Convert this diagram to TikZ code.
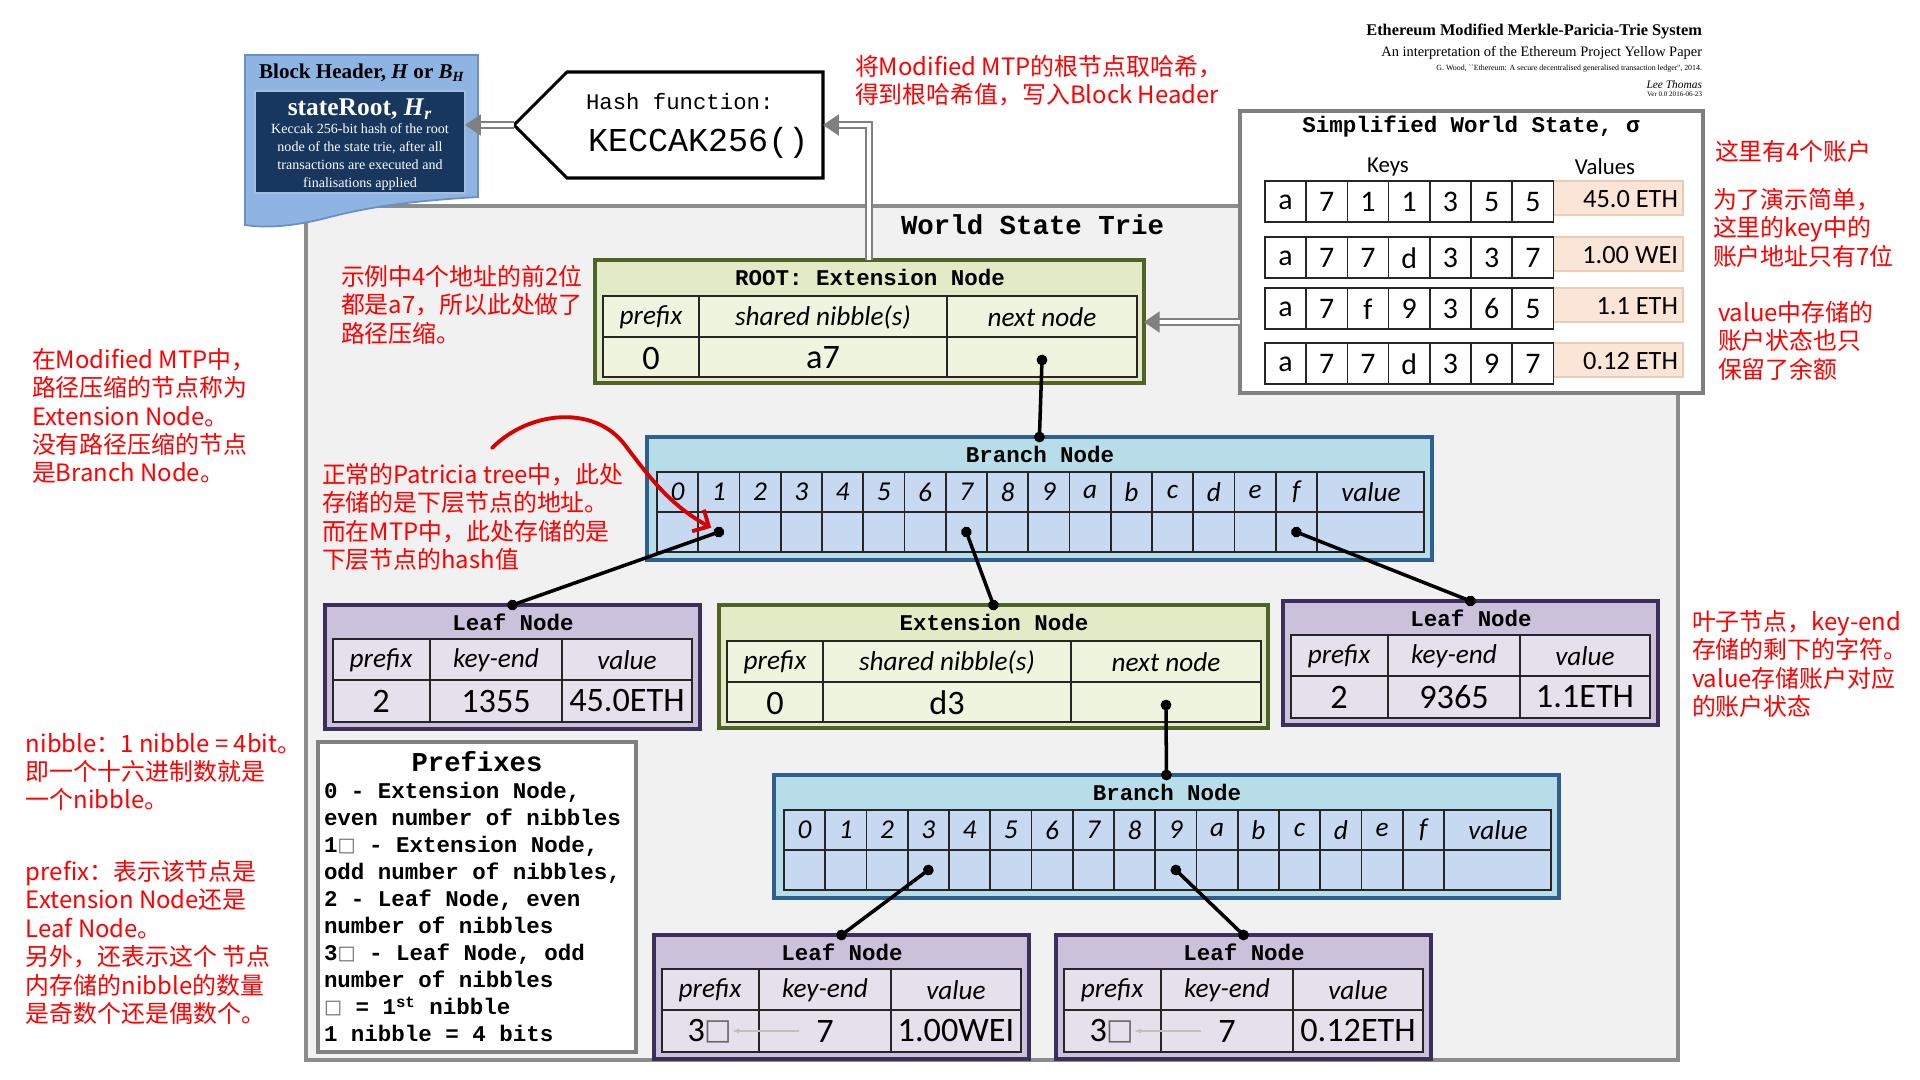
\documentclass[tikz,border=0pt]{standalone}
\usepackage{fontspec}
\setmainfont{Carlito}
\setmonofont{Liberation Mono}
\newfontfamily\timesf{Liberation Serif}
\newfontfamily\cjk{Noto Sans CJK SC}
\newfontfamily\symf{DejaVu Sans}
\usetikzlibrary{arrows.meta}
\usetikzlibrary{fit}

\definecolor{leaffill}{HTML}{CCC1DA}
\definecolor{leafedge}{HTML}{3D2F5B}
\definecolor{leafcellc}{HTML}{E6E0EC}
\definecolor{extfill}{HTML}{E3EBC6}
\definecolor{extedge}{HTML}{4F6228}
\definecolor{extcellc}{HTML}{EFF4DE}
\definecolor{brfill}{HTML}{B7DEE8}
\definecolor{bredge}{HTML}{2E5F8F}
\definecolor{brcellc}{HTML}{C6D9F1}
\definecolor{hdrfill}{HTML}{8DB4E2}
\definecolor{hdredge}{HTML}{6A8FC4}
\definecolor{navy}{HTML}{17375E}
\definecolor{amtfill}{HTML}{FBE5D6}
\definecolor{amtedge}{HTML}{EBCDB7}
\definecolor{triefill}{HTML}{F1F1F1}

\tikzset{
  every node/.style={inner sep=0pt, outer sep=0pt},
  trie/.style={draw=black!45, fill=triefill, line width=1.8pt},
  header/.style={draw=hdredge, fill=hdrfill, line width=1pt},
  rootbox/.style={fill=navy, draw=hdredge!60, line width=0.8pt},
  hashbox/.style={draw=black, fill=white, line width=1.8pt},
  wsbox/.style={draw=black!50, fill=white, line width=2pt},
  leafbox/.style={draw=leafedge, fill=leaffill, line width=2.4pt},
  extbox/.style={draw=extedge, fill=extfill, line width=2.4pt},
  brbox/.style={draw=bredge, fill=brfill, line width=2.2pt},
  gridline/.style={draw=black!85, line width=0.9pt},
  keycell/.style={draw=black!85, fill=white, line width=0.9pt},
  amtcell/.style={draw=amtedge, fill=amtfill, line width=0.6pt},
  ttl/.style={font=\ttfamily\bfseries\fontsize{12.8}{15}\selectfont},
  head/.style={font=\itshape\fontsize{15.5}{18}\selectfont},
  val/.style={font=\fontsize{19.5}{22}\selectfont},
  keytxt/.style={font=\fontsize{17}{20}\selectfont},
  amttxt/.style={font=\fontsize{15}{18}\selectfont},
  note/.style={text=red, align=left, anchor=north west, font=\cjk\fontsize{13.6}{16.2}\selectfont},
  link/.style={line width=2pt, {Circle[length=6pt]}-{Circle[length=6pt]}, shorten <=-3pt, shorten >=-3pt},
  pipe/.style={draw=black!50, double=white, line width=0.9pt, double distance=2.4pt, -{Triangle[length=9pt,width=12pt]}},
  hint/.style={draw=black!25, line width=0.7pt, -{Latex[length=4pt]}},
  scrawl/.style={draw=red!85!black, line width=2.2pt, line cap=round, -{Straight Barb[length=7pt]}},
}

\newcommand{\nib}{{\symf\raisebox{0.05em}{\scalebox{0.85}{\textcolor{black!60}{□}}}}}

% leaf: name, x, y, prefix, key-end, value
\newcommand{\leafnode}[6]{%
  \node[leafbox, anchor=north west, minimum width=7.5cm, minimum height=2.48cm] (#1) at (#2,#3) {};
  \begin{scope}[shift={(#2,#3)}]
    \node[ttl] (#1-t) at (188,17) {Leaf Node};
    \filldraw[gridline, fill=leafcellc] (8,34) rectangle (367,117);
    \draw[gridline] (8,75) -- (367,75) (105,34) -- (105,117) (237,34) -- (237,117);
    \node[head] (#1-h1) at (56,55) {prefix};
    \node[head] (#1-h2) at (171,55) {key-end};
    \node[head] (#1-h3) at (302,55) {value};
    \node[val] (#1-v1) at (56,96) {#4};
    \node[val] (#1-v2) at (171,96) {#5};
    \node[val] (#1-v3) at (302,96) {#6};
    \coordinate (#1-pre) at (78,96);
    \coordinate (#1-key) at (171,96);
  \end{scope}}

% extension: name, x, y, title, shared nibbles
\newcommand{\extnode}[5]{%
  \node[extbox, anchor=north west, minimum width=10.98cm, minimum height=2.46cm] (#1) at (#2,#3) {};
  \begin{scope}[shift={(#2,#3)}]
    \node[ttl] (#1-t) at (275,17) {#4};
    \filldraw[gridline, fill=extcellc] (8,36) rectangle (542,117);
    \draw[gridline] (8,77) -- (542,77) (104,36) -- (104,117) (352,36) -- (352,117);
    \node[head] (#1-h1) at (56,57) {prefix};
    \node[head] (#1-h2) at (228,57) {shared nibble(s)};
    \node[head] (#1-h3) at (447,57) {next node};
    \node[val] (#1-v1) at (56,98) {0};
    \node[val] (#1-v2) at (228,98) {#5};
    \coordinate (#1-next) at (447,100);
  \end{scope}}

% branch: name, x, y
\newcommand{\branchnode}[3]{%
  \node[brbox, anchor=north west, minimum width=15.7cm, minimum height=2.46cm] (#1) at (#2,#3) {};
  \begin{scope}[shift={(#2,#3)}]
    \node[ttl] (#1-t) at (393,17) {Branch Node};
    \filldraw[gridline, fill=brcellc] (10,35) rectangle (777,115);
    \draw[gridline] (10,75) -- (777,75);
    \foreach \lab [count=\i from 0] in {0,1,2,3,4,5,6,7,8,9,a,b,c,d,e,f}{
      \draw[gridline] ({10+41.25*(\i+1)},35) -- ++(0,80);
      \node[head] (#1-h\lab) at ({30.6+41.25*\i},55) {\lab};
      \coordinate (#1-\lab) at ({30.6+41.25*\i},95);
    }
    \node[head] (#1-hv) at (724,55) {value};
  \end{scope}}

\begin{document}
\begin{tikzpicture}[x=0.02cm, y=-0.02cm]
\useasboundingbox[fill=white] (0,0) rectangle (1920,1079);

% world state trie frame
\node[trie, fit={(306,206) (1678,1060)}] (trie) {};
\node[font=\ttfamily\bfseries\fontsize{15.6}{18}\selectfont, anchor=west] (trielab) at (901,225) {World State Trie};

% block header
\filldraw[header] (245,55) -- (478,55) -- (478,197) .. controls (430,200) and (380,204) .. (330,217) .. controls (300,225) and (270,229) .. (245,225) -- cycle;
\node[rootbox, fit={(255,91) (465,193)}] (stateroot) {};
\node[font=\timesf\bfseries\fontsize{12}{14}\selectfont] (bhtitle) at (362,73) {Block Header, \textit{H} or \textit{B}\textsubscript{\textit{H}}};
\node[text=white, font=\timesf\bfseries\fontsize{14.5}{17}\selectfont] (srtitle) at (360,109) {stateRoot, \textit{H}\textsubscript{\textit{r}}};
\node[text=white, align=center, anchor=north, font=\timesf\fontsize{8}{10.1}\selectfont] (srtext) at (360,124) {Keccak 256-bit hash of the root\\node of the state trie, after all\\transactions are executed and\\finalisations applied};

% hash function
\filldraw[hashbox] (514,125) -- (567,72) -- (823,72) -- (823,178) -- (567,178) -- cycle;
\node[fit={(514,72) (823,178)}] (hash) {};
\node[font=\ttfamily\fontsize{12.7}{15}\selectfont, anchor=west] (hashlab) at (586,102) {Hash function:};
\node[font=\ttfamily\fontsize{19}{22}\selectfont, anchor=west] (keccak) at (588,143) {KECCAK256()};

% paper title
\node[anchor=east, font=\timesf\bfseries\fontsize{9.3}{11}\selectfont] (paper) at (1702,32) {Ethereum Modified Merkle-Paricia-Trie System};
\node[anchor=east, font=\timesf\fontsize{8.2}{10}\selectfont] (yellow) at (1702,53) {An interpretation of the Ethereum Project Yellow Paper};
\node[anchor=east, font=\timesf\fontsize{4.5}{5}\selectfont] (cite) at (1702,69) {G. Wood, ``Ethereum: A secure decentralised generalised transaction ledger'', 2014.};
\node[anchor=east, font=\timesf\itshape\fontsize{6.5}{7}\selectfont] (author) at (1702,85) {Lee Thomas};
\node[anchor=east, font=\timesf\fontsize{4}{5}\selectfont] (version) at (1702,94) {Ver 0.0 2016-06-23};

% simplified world state
\node[wsbox, fit={(1240,111) (1703,393)}] (world) {};
\node[ttl] (wstitle) at (1471,127) {Simplified World State, σ};
\node[font=\fontsize{13}{15}\selectfont] (keyslab) at (1388,167) {Keys};
\node[font=\fontsize{13}{15}\selectfont] (valslab) at (1605,167) {Values};
\foreach \ty/\keys/\amt [count=\rw] in {181/{a,7,1,1,3,5,5}/45.0 ETH, 237/{a,7,7,d,3,3,7}/1.00 WEI, 288/{a,7,f,9,3,6,5}/1.1 ETH, 343/{a,7,7,d,3,9,7}/0.12 ETH}{
  \filldraw[amtcell] (1553,\ty) rectangle (1683,{\ty+34});
  \node[amttxt, anchor=east] (amt\rw) at (1678,{\ty+18}) {\amt};
  \foreach \k [count=\cl from 0] in \keys {
    \filldraw[keycell] ({1265+41.2*\cl},\ty) rectangle +(41.2,41);
    \node[keytxt] (key\rw\cl) at ({1285.6+41.2*\cl},{\ty+21}) {\k};
  }
}

% trie nodes
\extnode{root}{595}{260}{ROOT: Extension Node}{a7}
\branchnode{brA}{647}{437}
\leafnode{leafA}{325}{605}{2}{1355}{45.0ETH}
\extnode{extB}{719}{605}{Extension Node}{d3}
\leafnode{leafC}{1283}{601}{2}{9365}{1.1ETH}
\branchnode{brB}{774}{775}
\leafnode{leafD}{654}{935}{3\nib}{7}{1.00WEI}
\leafnode{leafE}{1056}{935}{3\nib}{7}{0.12ETH}

% links
\draw[link] (root-next) -- (brA.north);
\draw[link] (brA-1) -- (leafA.north);
\draw[link] (brA-7) -- (extB.north);
\draw[link] (brA-f) -- (leafC.north);
\draw[link] (extB-next) -- (brB.north);
\draw[link] (brB-3) -- (leafD.north);
\draw[link] (brB-9) -- (leafE.north);
\draw[hint, shorten <=15pt] (leafD-key) -- (leafD-pre);
\draw[hint, shorten <=15pt] (leafE-key) -- (leafE-pre);

% hashing pipes
\coordinate (rootup) at (869,260);
\draw[pipe] (rootup) |- (hash.east);
\draw[pipe] (hash.west) -- (hash.west -| stateroot.east);
\coordinate (wsout) at (1240,322);
\draw[pipe] (wsout) -- (wsout -| root.east);

% prefixes legend
\node[wsbox, fit={(318,742) (636,1052)}] (prefixes) {};
\node[font=\ttfamily\bfseries\fontsize{15.5}{18}\selectfont] (preftitle) at (477,762) {Prefixes};
\node[font=\ttfamily\bfseries\fontsize{12.8}{15.4}\selectfont, align=left, anchor=north west] (preftext) at (324,782) {0 - Extension Node,\\even number of nibbles\\1\nib{} - Extension Node,\\odd number of nibbles,\\2 - Leaf Node, even\\number of nibbles\\3\nib{} - Leaf Node, odd\\number of nibbles\\\nib{} = 1\textsuperscript{st} nibble\\1 nibble = 4 bits};

% red notes
\node[note] (n1) at (855,55) {将Modified MTP的根节点取哈希，\\得到根哈希值，写入Block Header};
\node[note] (n2) at (341,265) {示例中4个地址的前2位\\都是a7，所以此处做了\\路径压缩。};
\node[note] (n3) at (32,348) {在Modified MTP中，\\路径压缩的节点称为\\Extension Node。\\没有路径压缩的节点\\是Branch Node。};
\node[note] (n4) at (322,463) {正常的Patricia tree中，此处\\存储的是下层节点的地址。\\而在MTP中，此处存储的是\\下层节点的hash值};
\node[note] (n5) at (26,733) {nibble：1 nibble = 4bit。\\即一个十六进制数就是\\一个nibble。};
\node[note] (n6) at (26,860) {prefix：表示该节点是\\Extension Node还是\\Leaf Node。\\另外，还表示这个 节点\\内存储的nibble的数量\\是奇数个还是偶数个。};
\node[note] (n7) at (1715,140) {这里有4个账户};
\node[note] (n8) at (1713,188) {为了演示简单，\\这里的key中的\\账户地址只有7位};
\node[note] (n9) at (1718,301) {value中存储的\\账户状态也只\\保留了余额};
\node[note] (n10) at (1692,610) {叶子节点，key-end\\存储的剩下的字符。\\value存储账户对应\\的账户状态};

% hand drawn pointer
\coordinate (scrawlstart) at (492,448);
\draw[scrawl, shorten >=5pt] (scrawlstart) .. controls (530,410) and (595,405) .. (625,445) .. controls (650,478) and (670,505) .. (brA-1);
\end{tikzpicture}
\end{document}
